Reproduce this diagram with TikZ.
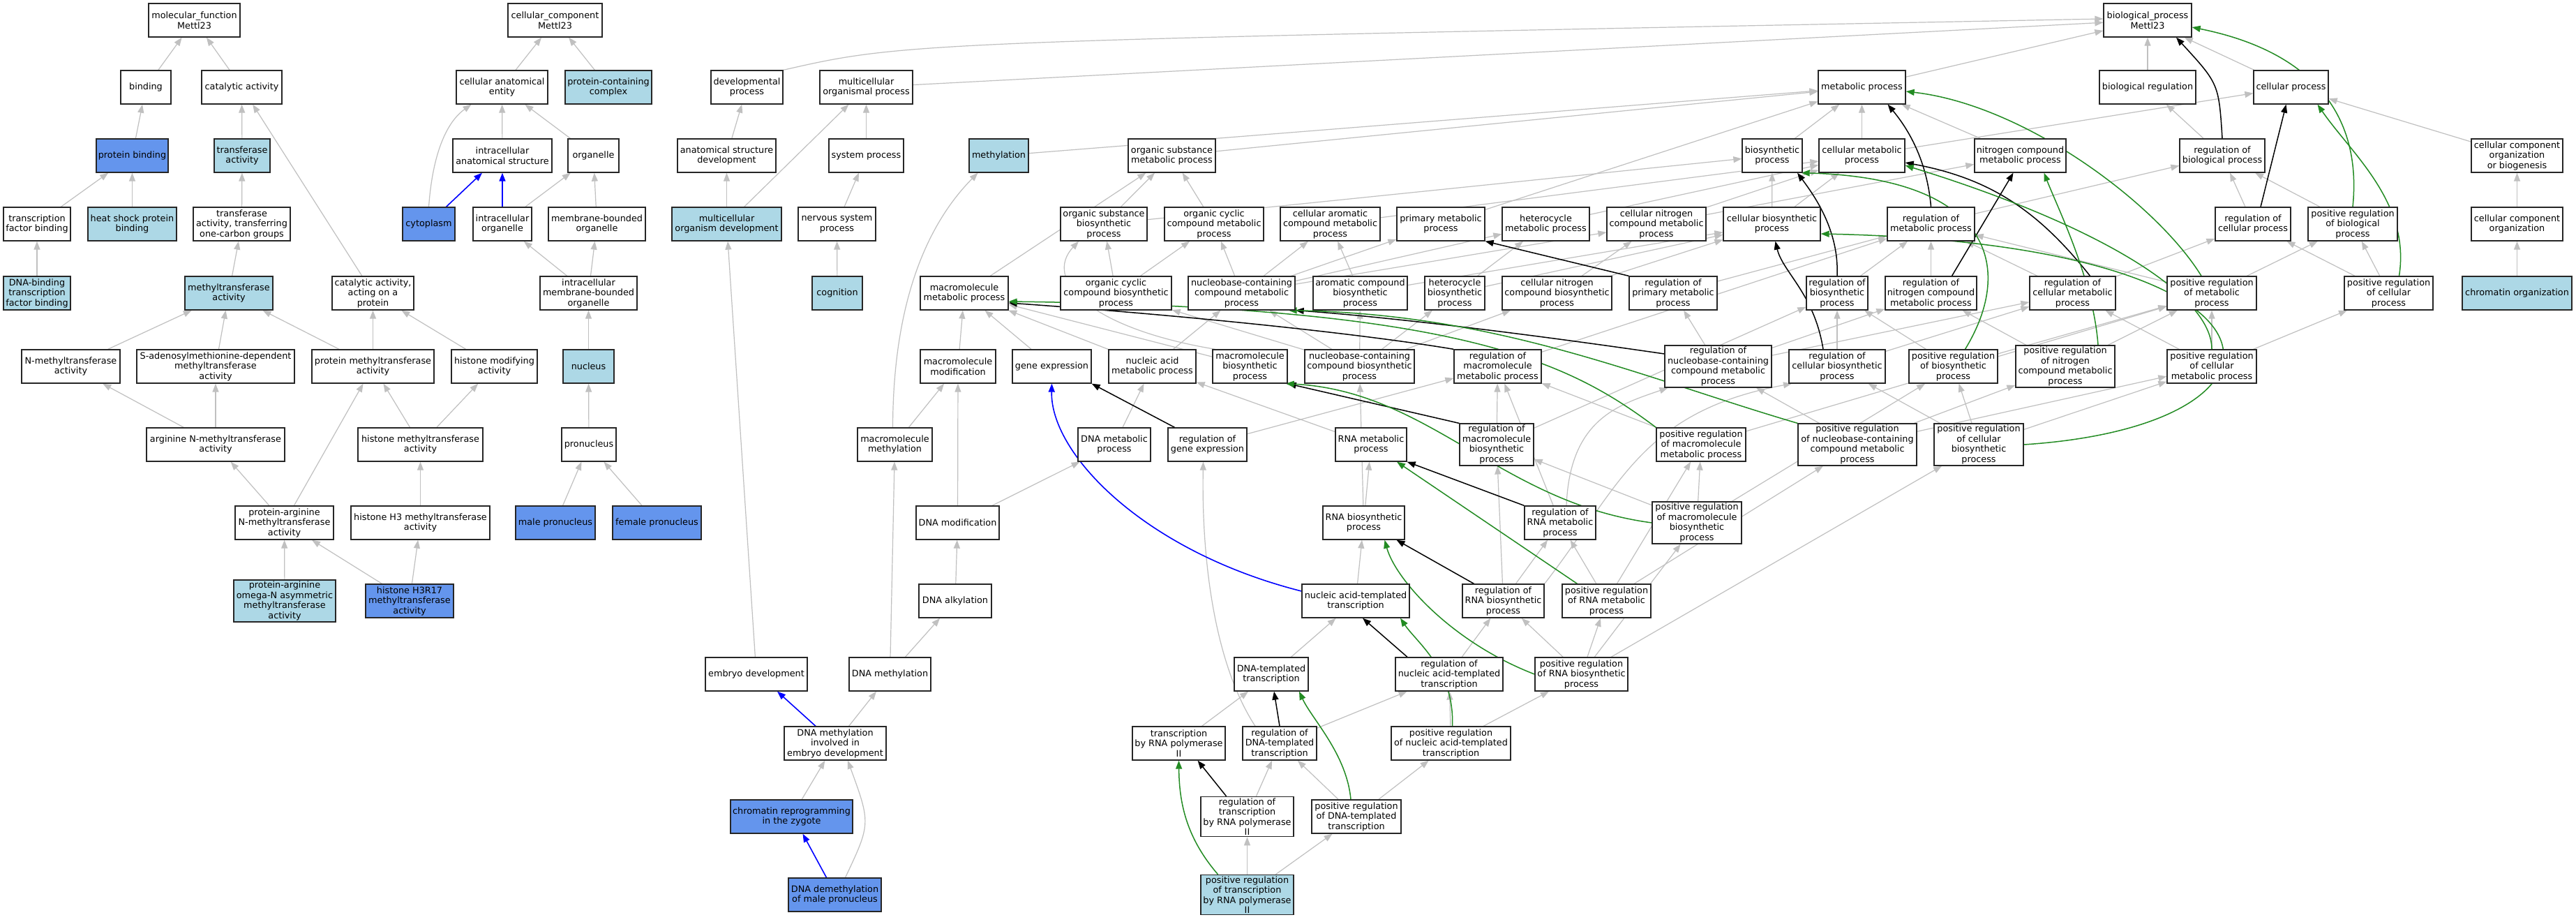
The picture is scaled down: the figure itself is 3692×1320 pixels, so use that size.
\documentclass[tikz,border=0pt]{standalone}
\usepackage{fontspec}
\setmainfont{DejaVu Sans}
\usetikzlibrary{arrows.meta,backgrounds}
\definecolor{lb}{HTML}{ADD8E6}
\definecolor{cb}{HTML}{6495ED}
\definecolor{eg}{HTML}{C0C0C0}
\definecolor{fg}{HTML}{228B22}
\tikzset{
  gnode/.style={draw=black!85, line width=1.3pt, rectangle, align=center, inner xsep=1pt, inner ysep=2pt, minimum height=48pt, font=\fontsize{12.8}{14.5}\selectfont, text=black},
  ge/.style={draw=eg, line width=1.2pt, -{Triangle[length=12pt,width=9pt]}},
  gk/.style={ge, draw=black, line width=1.5pt},
  gg/.style={ge, draw=fg, line width=1.5pt},
  gb/.style={ge, draw=blue, line width=1.6pt}
}
\newcommand\gn[6][white]{\node[gnode,fill=#1,minimum width={(#4-#3)*1pt}] (#2) at ({(#3+#4)/2},#5) {#6};}
\begin{document}
\begin{tikzpicture}[x=1pt,y=-1pt]
\useasboundingbox (0,0) rectangle (3692,1320);
% R1
\gn{mf}{213}{344}{29}{molecular\_function\\Mettl23}
\gn{cc}{728}{863}{29}{cellular\_component\\Mettl23}
\gn{bp}{3015}{3141}{29}{biological\_process\\Mettl23}
% R2
\gn{binding}{173}{245}{125}{binding}
\gn{catact}{289}{404}{125}{catalytic activity}
\gn{cae}{654}{785}{125}{cellular anatomical\\entity}
\gn[lb]{pcc}{810}{934}{125}{protein-containing\\complex}
\gn{devp}{1019}{1122}{125}{developmental\\process}
\gn{mop}{1175}{1308}{125}{multicellular\\organismal process}
\gn{metab}{2606}{2731}{125}{metabolic process}
\gn{bioreg}{3009}{3147}{125}{biological regulation}
\gn{cellp}{3230}{3337}{125}{cellular process}
% R3
\gn[cb]{protbind}{138}{241}{223}{protein binding}
\gn[lb]{transact}{307}{387}{223}{transferase\\activity}
\gn{ias}{649}{791}{223}{intracellular\\anatomical structure}
\gn{organelle}{814}{887}{223}{organelle}
\gn{asd}{971}{1112}{223}{anatomical structure\\development}
\gn{sysp}{1188}{1295}{223}{system process}
\gn[lb]{methylation}{1389}{1474}{223}{methylation}
\gn{osmp}{1617}{1742}{223}{organic substance\\metabolic process}
\gn{biosyn}{2497}{2583}{223}{biosynthetic\\process}
\gn{cmp}{2607}{2730}{223}{cellular metabolic\\process}
\gn{ncmp}{2830}{2961}{223}{nitrogen compound\\metabolic process}
\gn{rbp}{3124}{3246}{223}{regulation of\\biological process}
\gn{ccob}{3542}{3673}{223}{cellular component\\organization\\or biogenesis}
% R4
\gn{tfbind}{5}{101}{321}{transcription\\factor binding}
\gn[lb]{hsp}{126}{253}{321}{heat shock protein\\binding}
\gn{onecarb}{277}{416}{321}{transferase\\activity, transferring\\one-carbon groups}
\gn[cb]{cytoplasm}{577}{652}{321}{cytoplasm}
\gn{intorg}{678}{762}{321}{intracellular\\organelle}
\gn{mbo}{786}{925}{321}{membrane-bounded\\organelle}
\gn[lb]{mod}{963}{1120}{321}{multicellular\\organism development}
\gn{nsp}{1144}{1255}{321}{nervous system\\process}
\gn{osbp}{1520}{1644}{321}{organic substance\\biosynthetic\\process}
\gn{occmp}{1669}{1811}{321}{organic cyclic\\compound metabolic\\process}
\gn{cacmp}{1835}{1978}{321}{cellular aromatic\\compound metabolic\\process}
\gn{pmp}{2002}{2128}{321}{primary metabolic\\process}
\gn{hmp}{2153}{2278}{321}{heterocycle\\metabolic process}
\gn{cncmp}{2303}{2445}{321}{cellular nitrogen\\compound metabolic\\process}
\gn{cbp}{2470}{2609}{321}{cellular biosynthetic\\process}
\gn{rmp}{2705}{2830}{321}{regulation of\\metabolic process}
\gn{rcp}{3175}{3283}{321}{regulation of\\cellular process}
\gn{prbp}{3308}{3436}{321}{positive regulation\\of biological\\process}
\gn{cco}{3542}{3673}{321}{cellular component\\organization}
% R5
\gn[lb]{dnatf}{5}{101}{420}{DNA-binding\\transcription\\factor binding}
\gn[lb]{mtase}{265}{391}{420}{methyltransferase\\activity}
\gn{catprot}{476}{593}{420}{catalytic activity,\\acting on a\\protein}
\gn{imbo}{774}{913}{420}{intracellular\\membrane-bounded\\organelle}
\gn[lb]{cognition}{1164}{1236}{420}{cognition}
\gn{mmp}{1319}{1445}{420}{macromolecule\\metabolic process}
\gn{occbp}{1520}{1679}{420}{organic cyclic\\compound biosynthetic\\process}
\gn{ncbmp}{1703}{1856}{420}{nucleobase-containing\\compound metabolic\\process}
\gn{acbp}{1882}{2017}{420}{aromatic compound\\biosynthetic\\process}
\gn{hbp}{2042}{2128}{420}{heterocycle\\biosynthetic\\process}
\gn{cncbp}{2153}{2310}{420}{cellular nitrogen\\compound biosynthetic\\process}
\gn{rpmp}{2335}{2461}{420}{regulation of\\primary metabolic\\process}
\gn{rbsp}{2589}{2677}{420}{regulation of\\biosynthetic\\process}
\gn{rncmp}{2702}{2833}{420}{regulation of\\nitrogen compound\\metabolic process}
\gn{rcmp}{2909}{3032}{420}{regulation of\\cellular metabolic\\process}
\gn{prmp}{3106}{3234}{420}{positive regulation\\of metabolic\\process}
\gn{prcp}{3360}{3487}{420}{positive regulation\\of cellular\\process}
\gn[lb]{chromorg}{3529}{3686}{420}{chromatin organization}
% R6
\gn{nmt}{31}{172}{525}{N-methyltransferase\\activity}
\gn{sam}{196}{422}{525}{S-adenosylmethionine-dependent\\methyltransferase\\activity}
\gn{pmt}{447}{622}{525}{protein methyltransferase\\activity}
\gn{hmod}{647}{770}{525}{histone modifying\\activity}
\gn[lb]{nucleus}{807}{880}{525}{nucleus}
\gn{mmod}{1319}{1427}{525}{macromolecule\\modification}
\gn{geneexp}{1451}{1564}{525}{gene expression}
\gn{nametab}{1589}{1714}{525}{nucleic acid\\metabolic process}
\gn{mbp}{1738}{1845}{525}{macromolecule\\biosynthetic\\process}
\gn{ncbbp}{1870}{2027}{525}{nucleobase-containing\\compound biosynthetic\\process}
\gn{rmmp}{2084}{2209}{525}{regulation of\\macromolecule\\metabolic process}
\gn{rncbmp}{2386}{2539}{525}{regulation of\\nucleobase-containing\\compound metabolic\\process}
\gn{rcbp}{2564}{2702}{525}{regulation of\\cellular biosynthetic\\process}
\gn{prbsp}{2736}{2863}{525}{positive regulation\\of biosynthetic\\process}
\gn{prncmp}{2889}{3031}{525}{positive regulation\\of nitrogen\\compound metabolic\\process}
\gn{prcmp}{3106}{3234}{525}{positive regulation\\of cellular\\metabolic process}
% R7
\gn{argnmt}{210}{408}{637}{arginine N-methyltransferase\\activity}
\gn{hmt}{513}{692}{637}{histone methyltransferase\\activity}
\gn{pronuc}{805}{883}{637}{pronucleus}
\gn{mmeth}{1229}{1336}{637}{macromolecule\\methylation}
\gn{dnamp}{1545}{1649}{637}{DNA metabolic\\process}
\gn{rge}{1674}{1787}{637}{regulation of\\gene expression}
\gn{rnamp}{1914}{2016}{637}{RNA metabolic\\process}
\gn{rmbp}{2092}{2198}{637}{regulation of\\macromolecule\\biosynthetic\\process}
\gn{prmmp}{2374}{2502}{637}{positive regulation\\of macromolecule\\metabolic process}
\gn{prncbmp}{2577}{2747}{637}{positive regulation\\of nucleobase-containing\\compound metabolic\\process}
\gn{prcbp}{2772}{2900}{637}{positive regulation\\of cellular\\biosynthetic\\process}
% R8
\gn{pargnmt}{337}{478}{749}{protein-arginine\\N-methyltransferase\\activity}
\gn{h3mt}{503}{702}{749}{histone H3 methyltransferase\\activity}
\gn[cb]{malepn}{739}{853}{749}{male pronucleus}
\gn[cb]{femalepn}{878}{1005}{749}{female pronucleus}
\gn{dnamod}{1313}{1432}{749}{DNA modification}
\gn{rnabp}{1896}{2013}{749}{RNA biosynthetic\\process}
\gn{rrnamp}{2185}{2287}{749}{regulation of\\RNA metabolic\\process}
\gn{prmbp}{2368}{2496}{749}{positive regulation\\of macromolecule\\biosynthetic\\process}
% R9
\gn[lb]{omegan}{335}{481}{861}{protein-arginine\\omega-N asymmetric\\methyltransferase\\activity}
\gn[cb]{h3r17}{524}{650}{861}{histone H3R17\\methyltransferase\\activity}
\gn{dnaalk}{1317}{1421}{861}{DNA alkylation}
\gn{natt}{1866}{2020}{861}{nucleic acid-templated\\transcription}
\gn{rrnabp}{2096}{2213}{861}{regulation of\\RNA biosynthetic\\process}
\gn{prrnamp}{2239}{2366}{861}{positive regulation\\of RNA metabolic\\process}
% R10
\gn{embdev}{1011}{1157}{966}{embryo development}
\gn{dnameth}{1217}{1334}{966}{DNA methylation}
\gn{dtt}{1769}{1875}{966}{DNA-templated\\transcription}
\gn{rnatt}{2000}{2154}{966}{regulation of\\nucleic acid-templated\\transcription}
\gn{prrnabp}{2200}{2333}{966}{positive regulation\\of RNA biosynthetic\\process}
% R11
\gn{dnamied}{1124}{1270}{1065}{DNA methylation\\involved in\\embryo development}
\gn{trp2}{1623}{1756}{1065}{transcription\\by RNA polymerase\\II}
\gn{rdtt}{1781}{1887}{1065}{regulation of\\DNA-templated\\transcription}
\gn{prnatt}{1994}{2165}{1065}{positive regulation\\of nucleic acid-templated\\transcription}
% R12
\gn[cb]{chrrep}{1047}{1222}{1170}{chromatin reprogramming\\in the zygote}
\gn{rtrp2}{1721}{1854}{1170}{regulation of\\transcription\\by RNA polymerase\\II}
\gn{prdtt}{1880}{2008}{1170}{positive regulation\\of DNA-templated\\transcription}
% R13
\gn[cb]{dnademeth}{1130}{1263}{1282}{DNA demethylation\\of male pronucleus}
\gn[lb]{prtrp2}{1721}{1854}{1282}{positive regulation\\of transcription\\by RNA polymerase\\II}

\begin{pgfonlayer}{background}
\fill[white] (0,0) rectangle (3692,1320);
% gray straight edges
\foreach \a/\b in {binding/mf, catact/mf, protbind/binding, transact/catact, catprot/catact, tfbind/protbind, hsp/protbind, onecarb/transact, dnatf/tfbind, mtase/onecarb, nmt/mtase, sam/mtase, pmt/mtase, pmt/catprot, hmod/catprot, argnmt/nmt, argnmt/sam, hmt/pmt, hmt/hmod, pargnmt/argnmt, pargnmt/pmt, h3mt/hmt, omegan/pargnmt, h3r17/pargnmt, h3r17/h3mt,
 cae/cc, pcc/cc, ias/cae, organelle/cae, intorg/organelle, mbo/organelle, imbo/intorg, imbo/mbo, nucleus/imbo, pronuc/nucleus, malepn/pronuc, femalepn/pronuc,
 mop/bp, metab/bp, bioreg/bp, cellp/bp, asd/devp, mod/asd, mod/mop, sysp/mop, nsp/sysp, cognition/nsp, embdev/mod, methylation/metab, osmp/metab, pmp/metab, biosyn/metab, cmp/metab, ncmp/metab, cmp/cellp, rbp/bioreg, rcp/rbp, prbp/rbp, prcp/rcp, prcp/prbp, ccob/cellp, cco/ccob, chromorg/cco, rmp/rbp, prmp/rmp, prmp/prbp, rcmp/rcp,
 mmp/osmp, osbp/osmp, osbp/biosyn, occmp/osmp, occbp/occmp, occbp/osbp, cacmp/cmp, hmp/cmp, cncmp/cmp, cncmp/ncmp, cbp/biosyn, cbp/cmp, ncbmp/cacmp, ncbmp/hmp, ncbmp/cncmp, ncbmp/occmp, ncbmp/pmp, acbp/cacmp, acbp/cbp, hbp/hmp, hbp/cbp, cncbp/cncmp, cncbp/cbp, rpmp/rmp, rbsp/rmp, rncmp/rmp, rcmp/rmp,
 mmod/mmp, geneexp/mmp, nametab/mmp, nametab/ncbmp, mbp/mmp, ncbbp/acbp, ncbbp/hbp, ncbbp/cncbp, ncbbp/ncbmp, ncbbp/occbp, rmmp/rmp, rncbmp/rcmp, rncbmp/rpmp, rncbmp/rncmp, rcbp/rbsp, rcbp/rcmp, prbsp/rbsp, prbsp/prmp, prncmp/rncmp, prncmp/prmp, prcmp/rcmp, prcmp/prmp, prcmp/prcp,
 mmeth/mmod, dnamp/nametab, rge/rmmp, rnamp/nametab, rmbp/rmmp, rmbp/rbsp, prmmp/rmmp, prmmp/prmp, prncbmp/rncbmp, prncbmp/prcmp, prncbmp/prncmp, prcbp/prbsp, prcbp/rcbp, prcbp/prcmp,
 dnamod/dnamp, dnamod/mmod, rnabp/rnamp, rnabp/ncbbp, rrnamp/rmmp, prmbp/rmbp, prmbp/prmmp, prmbp/prbsp,
 dnaalk/dnamod, natt/rnabp, rrnabp/rrnamp, rrnabp/rmbp, prrnamp/rrnamp, prrnamp/prncbmp, prrnamp/prmmp,
 dnameth/dnaalk, dnameth/mmeth, dtt/natt, rnatt/rrnabp, prrnabp/rrnabp, prrnabp/prrnamp, prrnabp/prmbp, prrnabp/prcbp,
 dnamied/dnameth, trp2/dtt, rdtt/rnatt, prnatt/rnatt, prnatt/prrnabp, chrrep/dnamied, rtrp2/rdtt, prdtt/rdtt, prdtt/prnatt, prtrp2/rtrp2, prtrp2/prdtt}
 \draw[ge] (\a) -- (\b);
% gray curved edges
\draw[ge] (devp.north east) .. controls (1300,60) .. ([yshift=2pt]bp.west);
\draw[ge] (cytoplasm.north) .. controls (620,220) and (640,175) .. ([xshift=-44pt]cae.south);
\draw[ge] ([xshift=-3pt]mmeth.north) .. controls (1280,430) and (1330,320) .. ([xshift=-30pt]methylation.south);
\draw[ge] ([xshift=15pt]dnademeth.north) .. controls (1248,1180) .. ([xshift=18pt]dnamied.south);
\draw[ge] ([xshift=-35pt]rdtt.north) .. controls (1740,950) and (1722,800) .. ([xshift=-6pt]rge.south);
\draw[ge] ([xshift=-50pt]mbp.north) .. controls (1560,470) and (1495,400) .. ([xshift=-36pt]osbp.south);
\draw[ge] ([xshift=9pt]rrnamp.north) .. controls (2250,600) and (2320,580) .. ([xshift=-72pt]rncbmp.south);
\draw[ge] (rrnabp.north east) .. controls (2320,700) and (2350,590) .. ([xshift=-65pt]rcbp.south);
% black (regulates)
\draw[gk] (rbp.north) .. controls (3180,120) .. ([xshift=41pt]bp.south);
\draw[gk] ([xshift=11pt]rcp.north) -- ([xshift=-7pt]cellp.south);
\draw[gk] (rmp.north) .. controls (2762,230) and (2735,185) .. ([xshift=37pt]metab.south);
\draw[gk] (rpmp.north west) -- (pmp.south east);
\draw[gk] (rbsp.north) .. controls (2636,330) and (2600,280) .. ([xshift=36pt]biosyn.south);
\draw[gk] ([xshift=30pt]rncmp.north) -- ([xshift=-10pt]ncmp.south);
\draw[gk] ([xshift=25pt]rcmp.north) .. controls (2920,300) and (2850,255) .. ([yshift=-10pt]cmp.east);
\draw[gk] (rmmp.north west) .. controls (1950,478) and (1700,452) .. ([yshift=-14pt]mmp.east);
\draw[gk] ([yshift=18pt]rncbmp.west) .. controls (2200,480) and (2000,455) .. (ncbmp.south east);
\draw[gk] ([xshift=-20pt]rcbp.north) .. controls (2600,420) and (2555,390) .. ([xshift=5pt]cbp.south);
\draw[gk] ([xshift=-47pt]rge.north) -- (geneexp.south east);
\draw[gk] (rmbp.north west) -- (mbp.south east);
\draw[gk] (rrnamp.north west) -- (rnamp.south east);
\draw[gk] ([xshift=-42pt]rrnabp.north) -- ([xshift=47pt]rnabp.south);
\draw[gk] ([xshift=-60pt]rnatt.north) -- ([xshift=10pt]natt.south);
\draw[gk] (rdtt.north) -- ([xshift=4pt]dtt.south);
\draw[gk] ([xshift=-30pt]rtrp2.north) -- ([xshift=27pt]trp2.south);
% green (positively regulates)
\draw[gg] (prbp.north) .. controls (3385,170) and (3320,75) .. ([yshift=-10pt]bp.east);
\draw[gg] ([xshift=15pt]prcp.north) .. controls (3455,290) and (3370,220) .. ([xshift=38pt]cellp.south);
\draw[gg] ([xshift=-15pt]prmp.north) .. controls (3090,290) and (2900,150) .. ([yshift=-6pt]metab.east);
\draw[gg] ([xshift=17pt]prbsp.north) .. controls (2890,380) and (2850,255) .. ([xshift=-2pt]biosyn.south east);
\draw[gg] (prcmp.north) .. controls (3170,420) and (3000,320) .. ([yshift=-14pt]cmp.east);
\draw[gg] ([xshift=47pt]prncmp.north) .. controls (3000,400) and (2950,300) .. ([xshift=34pt]ncmp.south);
\draw[gg] (prcbp.east) .. controls (3320,610) and (3320,350) .. ([yshift=-14pt]cbp.east);
\draw[gg] (prmmp.north west) .. controls (2250,520) and (2100,440) .. ([yshift=-12pt]mmp.east);
\draw[gg] (prncbmp.north west) .. controls (2350,540) and (2150,450) .. ([xshift=-10pt]ncbmp.south east);
\draw[gg] (prmbp.west) .. controls (2150,720) and (2050,560) .. ([xshift=-3pt]mbp.south east);
\draw[gg] ([xshift=-42pt]prrnamp.north) -- ([xshift=37pt]rnamp.south);
\draw[gg] (prrnabp.west) .. controls (2080,920) and (2000,830) .. ([xshift=30pt]rnabp.south);
\draw[gg] ([xshift=2pt]prnatt.north) .. controls (2085,960) and (2030,920) .. ([xshift=64pt]natt.south);
\draw[gg] ([xshift=-8pt]prdtt.north) .. controls (1930,1080) and (1880,1030) .. ([xshift=40pt]dtt.south);
\draw[gg] ([xshift=-42pt]prtrp2.north) .. controls (1700,1200) and (1690,1150) .. (trp2.south);
% blue (part of)
\draw[gb] ([xshift=25pt]cytoplasm.north) -- ([xshift=-29pt]ias.south);
\draw[gb] (intorg.north) -- (ias.south);
\draw[gb] ([yshift=14pt]natt.west) .. controls (1640,790) and (1505,650) .. (geneexp.south);
\draw[gb] ([xshift=-28pt]dnamied.north) -- ([xshift=30pt]embdev.south);
\draw[gb] ([xshift=-12pt]dnademeth.north) -- ([xshift=16pt]chrrep.south);
\end{pgfonlayer}
\end{tikzpicture}
\end{document}
